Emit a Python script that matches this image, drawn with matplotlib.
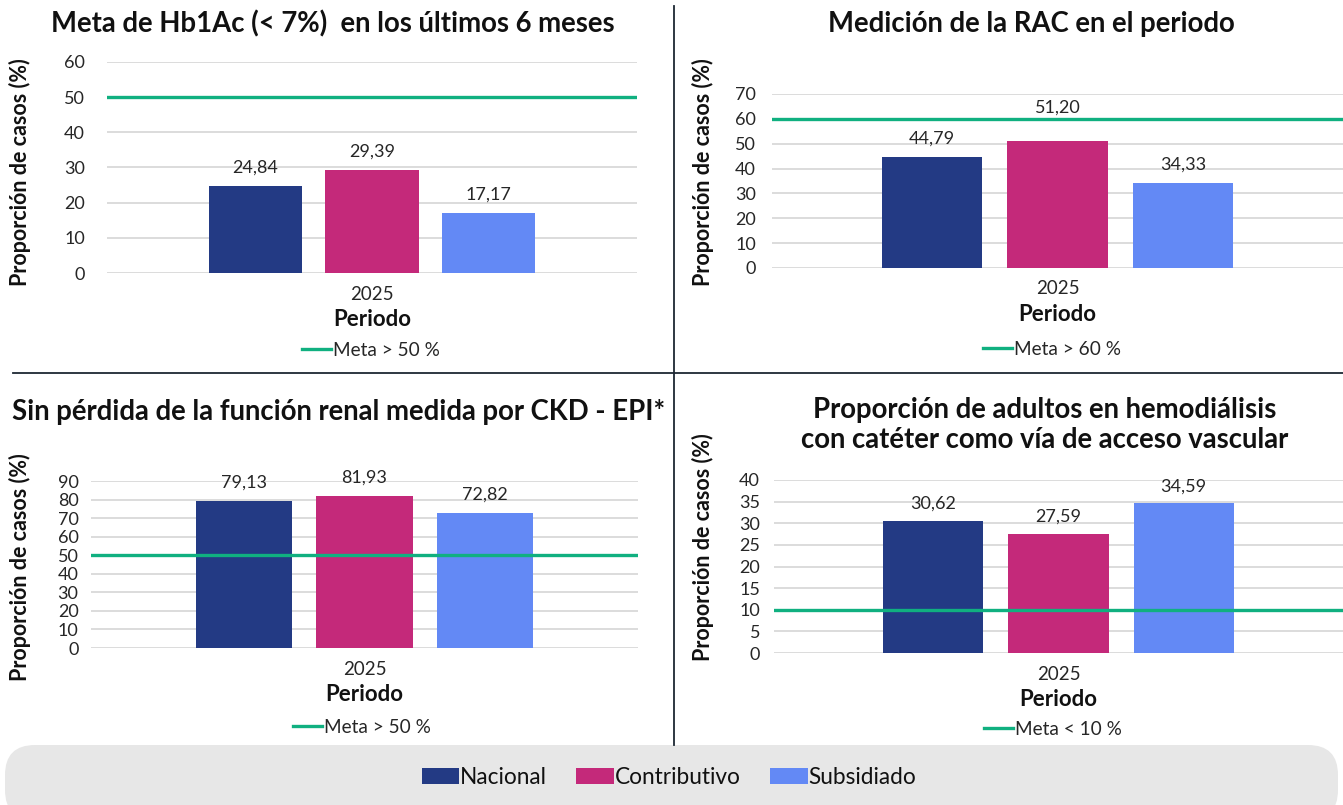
import matplotlib
matplotlib.use("Agg")
import matplotlib.pyplot as plt
from matplotlib.patches import Patch, FancyBboxPatch
from matplotlib.lines import Line2D

plt.rcParams['font.family'] = ['Lato', 'DejaVu Sans']

# ---- data ----
periods = ['2025']
series = ['Nacional', 'Contributivo', 'Subsidiado']
colors = ['#233A84', '#C4297A', '#6389F5']
goal_color = '#10B080'

titles = [
    'Meta de Hb1Ac (< 7%)  en los últimos 6 meses',
    'Medición de la RAC en el periodo',
    'Sin pérdida de la función renal medida por CKD - EPI*',
    'Proporción de adultos en hemodiálisis\ncon catéter como vía de acceso vascular',
]
hba1c_values = [24.84, 29.39, 17.17]
rac_values = [44.79, 51.20, 34.33]
ckd_values = [79.13, 81.93, 72.82]
cateter_values = [30.62, 27.59, 34.59]

goal_values = [50, 60, 50, 10]
goal_labels = ['Meta > 50 %', 'Meta > 60 %', 'Meta > 50 %', 'Meta < 10 %']
y_max = [60, 70, 90, 40]
y_step = [10, 10, 10, 5]

W, H = 1343, 805
fig = plt.figure(figsize=(W / 100, H / 100), dpi=100)

# background layer in pixel coordinates for the band and dividers
bg = fig.add_axes([0, 0, 1, 1], zorder=-1)
bg.set_xlim(0, W)
bg.set_ylim(H, 0)
bg.axis('off')


def fx(px):
    return px / W


def fy(py):
    return 1 - py / H


# panel layout in pixels: (left, right, top, bottom)
boxes = [(107, 637, 62, 273), (772, 1343, 94, 268),
         (91, 638, 481, 648), (774, 1343, 480, 653)]
title_pos = [(333, 24, 'center'), (1031, 24, 'center'),
             (12, 412, 'left'), (1045, 425, 'center')]
ylabel_pos = [(20, 172), (703, 172), (20, 567), (703, 547)]
legend_pos = [(371, 350), (1052, 349), (362, 727), (1053, 729)]
ytick_pad = [16, 11.5, 9, 10]
label_offsets = [[13, 13, 13], [13, 24, 13], [13, 13, 13], [12, 12, 12]]

values = [hba1c_values, rac_values, ckd_values, cateter_values]

offset = 0.22
bar_w = 0.176

for i in range(4):
    l, r, t, b = boxes[i]
    ax = fig.add_axes([fx(l), fy(b), (r - l) / W, (b - t) / H])
    vals = values[i]
    for j, (name, v, c) in enumerate(zip(series, vals, colors)):
        xpos = (j - 1) * offset
        ax.bar(xpos, v, width=bar_w, color=c, zorder=2)
        ax.annotate(f"{v:.2f}".replace('.', ','), (xpos, v),
                    xytext=(0, label_offsets[i][j]), textcoords='offset points',
                    ha='center', va='center', fontsize=13, color='#262626')
    ax.axhline(goal_values[i], color=goal_color, lw=2.4, zorder=3)
    ax.set_xlim(-0.5, 0.5)
    ax.set_ylim(0, y_max[i])
    ax.set_yticks(range(0, y_max[i] + 1, y_step[i]))
    ax.yaxis.grid(True, color='#d9d9d9', lw=1.3, zorder=0)
    ax.set_axisbelow(True)
    ax.set_xticks([0])
    ax.set_xticklabels(periods)
    ax.tick_params(axis='x', length=0, pad=9, labelsize=13.5, labelcolor='#262626')
    ax.tick_params(axis='y', length=0, pad=ytick_pad[i], labelsize=13, labelcolor='#262626')
    for s in ax.spines.values():
        s.set_visible(False)
    ax.set_xlabel('Periodo', fontsize=16, fontweight='bold', labelpad=5, color='#111111')

    tx, ty, ha = title_pos[i]
    fig.text(fx(tx), fy(ty), titles[i], ha=ha, va='center', fontsize=19.8,
             fontweight='bold', color='#111111', linespacing=1.2)
    yx, yy = ylabel_pos[i]
    fig.text(fx(yx), fy(yy), 'Proporción de casos (%)', rotation=90,
             ha='center', va='center', fontsize=15.5, fontweight='bold', color='#111111')
    lx, ly = legend_pos[i]
    handle = Line2D([], [], color=goal_color, lw=2.4)
    fig.legend([handle], [goal_labels[i]], loc='center',
               bbox_to_anchor=(fx(lx), fy(ly)), frameon=False, fontsize=13.7,
               handlelength=1.5, handletextpad=0.1, borderpad=0,
               labelcolor='#262626')

# panel dividers
bg.plot([674, 674], [6, 745], color='#1c2833', lw=1.3)
bg.plot([13, 1343], [373, 373], color='#1c2833', lw=1.3)

# shared series legend on a rounded band
band = FancyBboxPatch((5, 745), 1333, 75,
                      boxstyle="round,pad=0,rounding_size=30",
                      facecolor='#e7e7e7', edgecolor='none')
bg.add_patch(band)
handles = [Patch(facecolor=c, edgecolor='none') for c in colors]
fig.legend(handles, series, loc='center', bbox_to_anchor=(fx(669), fy(777)),
           ncol=3, frameon=False, fontsize=16.3, handlelength=1.65, handleheight=0.7,
           handletextpad=0.05, columnspacing=1.3, labelcolor='#111111')

fig.savefig('out.png', dpi=100)
